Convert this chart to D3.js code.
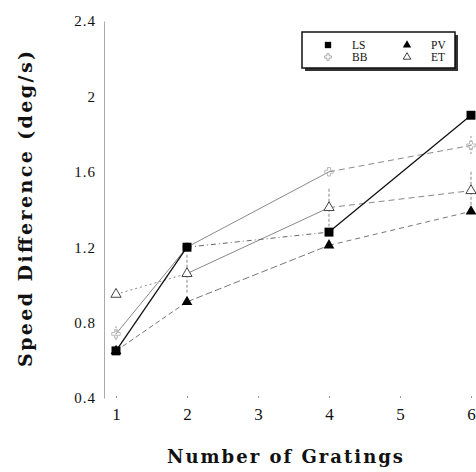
<!DOCTYPE html>
<html><head><meta charset="utf-8">
<script src="https://cdn.jsdelivr.net/npm/d3@7"></script>
<style>
html,body{margin:0;padding:0;background:#fff;}
svg{display:block;}
text{font-family:"Liberation Serif","DejaVu Serif",serif;fill:#111;}
</style></head>
<body>
<svg id="c" width="476" height="472"></svg>
<script>
const gratings = [1, 2, 4, 6];
const seriesNames = ["LS", "BB", "PV", "ET"];
const LS = [0.65, 1.2, 1.28, 1.9];
const BB = [0.74, 1.2, 1.6, 1.74];
const PV = [0.65, 0.91, 1.21, 1.39];
const ET = [0.95, 1.06, 1.41, 1.5];
const errBB = [0.04, 0, 0, 0.05];
const errET = [0, 0.1, 0.1, 0.1];
const xTicks = [1, 2, 3, 4, 5, 6];
const yTicks = [0.4, 0.8, 1.2, 1.6, 2, 2.4];
const yTickLabels = ["0.4", "0.8", "1.2", "1.6", "2", "2.4"];
const xTitle = "Number of Gratings";
const yTitle = "Speed Difference (deg/s)";

const svg = d3.select("#c");
const x = d3.scaleLinear().domain([1, 6]).range([116, 471]);
const y = d3.scaleLinear().domain([0.4, 2.4]).range([398, 21]);

// y axis
const ya = svg.append("g").attr("transform", "translate(104,0)")
  .call(d3.axisLeft(y).tickValues(yTicks).tickSize(0).tickPadding(8)
    .tickFormat((d, i) => yTickLabels[i]));
ya.select(".domain").attr("stroke", "#aaa").attr("stroke-width", 1);
ya.selectAll("text").style("font-size", "15px").style("letter-spacing", "1px").attr("fill", "#111")
  .style("font-family", '"Liberation Serif",serif');

// x axis
const xa = svg.append("g").attr("transform", "translate(0,398)")
  .call(d3.axisBottom(x).tickValues(xTicks).tickSizeInner(-2).tickSizeOuter(0).tickPadding(10)
    .tickFormat(d3.format("d")));
xa.select(".domain").remove();
xa.selectAll("line").attr("stroke", "#999");
xa.selectAll("text").style("font-size", "17px").attr("fill", "#111")
  .style("font-family", '"Liberation Serif",serif');

// titles
svg.append("text").attr("x", 285).attr("y", 463).attr("text-anchor", "middle")
  .style("font-family", '"DejaVu Serif",serif')
  .style("font-size", "18px").style("font-weight", "bold")
  .attr("textLength", 236).attr("lengthAdjust", "spacing")
  .text(xTitle);
svg.append("text").attr("transform", "translate(32,209) rotate(-90)").attr("text-anchor", "middle")
  .style("font-family", '"DejaVu Serif",serif')
  .style("font-size", "19px").style("font-weight", "bold")
  .attr("textLength", 316).attr("lengthAdjust", "spacing")
  .text(yTitle);

const data = {LS, BB, PV, ET};
const styles = {
  LS: {color: ["#111", "#666", "#111"], w: [1.3, 1, 1.3], dash: ["", "5,3,1,3", ""]},
  BB: {color: ["#8a8a8a", "#8a8a8a", "#8a8a8a"], w: [1, 1, 1], dash: ["", "", "6,4"]},
  PV: {color: ["#777", "#777", "#777"], w: [1, 1, 1], dash: ["5,3", "7,3", "5,4"]},
  ET: {color: ["#888", "#888", "#888"], w: [1, 1, 1], dash: ["2,3", "", "6,4"]}
};

// lines (segment by segment)
const line = d3.line().x(d => x(d[0])).y(d => y(d[1]));
["ET", "PV", "BB", "LS"].forEach(name => {
  const vals = data[name];
  for (let i = 0; i < gratings.length - 1; i++) {
    svg.append("path")
      .attr("d", line([[gratings[i], vals[i]], [gratings[i + 1], vals[i + 1]]]))
      .attr("fill", "none").attr("stroke", styles[name].color[i])
      .attr("stroke-width", styles[name].w[i])
      .attr("stroke-dasharray", styles[name].dash[i] || null);
  }
});

// error bars
function errBars(vals, errs, color, dash) {
  gratings.forEach((g, i) => {
    if (!errs[i]) return;
    svg.append("line").attr("x1", x(g)).attr("x2", x(g))
      .attr("y1", y(vals[i] + errs[i])).attr("y2", y(vals[i] - errs[i]))
      .attr("stroke", color).attr("stroke-width", 1.2).attr("stroke-dasharray", dash);
  });
}
errBars(ET, errET, "#999", "3,2");
errBars(BB, errBB, "#aaa", "2,2");

// markers
const sym = {
  LS: d3.symbol().type(d3.symbolSquare).size(80),
  PV: d3.symbol().type(d3.symbolTriangle).size(50),
  ET: d3.symbol().type(d3.symbolTriangle).size(45),
  BB: d3.symbol().type(d3.symbolCross).size(40)
};
function markers(name) {
  const vals = data[name];
  gratings.forEach((g, i) => {
    const p = svg.append("path").attr("d", sym[name]())
      .attr("transform", `translate(${x(g)},${y(vals[i])})`);
    if (name === "LS" || name === "PV") p.attr("fill", "#000");
    else if (name === "ET") p.attr("fill", "#fff").attr("stroke", "#444").attr("stroke-width", 1);
    else p.attr("fill", "none").attr("stroke", "#aaa").attr("stroke-width", 0.8);
  });
}
["BB", "ET", "PV", "LS"].forEach(markers);

// legend
const lg = svg.append("g");
lg.append("rect").attr("x", 305).attr("y", 35).attr("width", 153).attr("height", 36)
  .attr("fill", "#333");
lg.append("rect").attr("x", 302).attr("y", 32).attr("width", 153).attr("height", 36)
  .attr("fill", "#fff").attr("stroke", "#111").attr("stroke-width", 1.5);
const legendPos = {LS: [328, 45], BB: [328, 57], PV: [407, 45], ET: [407, 57]};
seriesNames.forEach(name => {
  const [lx, ly] = legendPos[name];
  const p = lg.append("path").attr("transform", `translate(${lx},${ly})`);
  if (name === "LS") p.attr("d", d3.symbol().type(d3.symbolSquare).size(40)()).attr("fill", "#000");
  else if (name === "PV") p.attr("d", d3.symbol().type(d3.symbolTriangle).size(30)()).attr("fill", "#000");
  else if (name === "ET") p.attr("d", d3.symbol().type(d3.symbolTriangle).size(25)()).attr("fill", "#fff").attr("stroke", "#444");
  else p.attr("d", d3.symbol().type(d3.symbolCross).size(25)()).attr("fill", "none").attr("stroke", "#aaa");
  lg.append("text").attr("x", lx + 24).attr("y", ly + 4)
    .style("font-size", "11.5px").text(name);
});
</script>
</body></html>
